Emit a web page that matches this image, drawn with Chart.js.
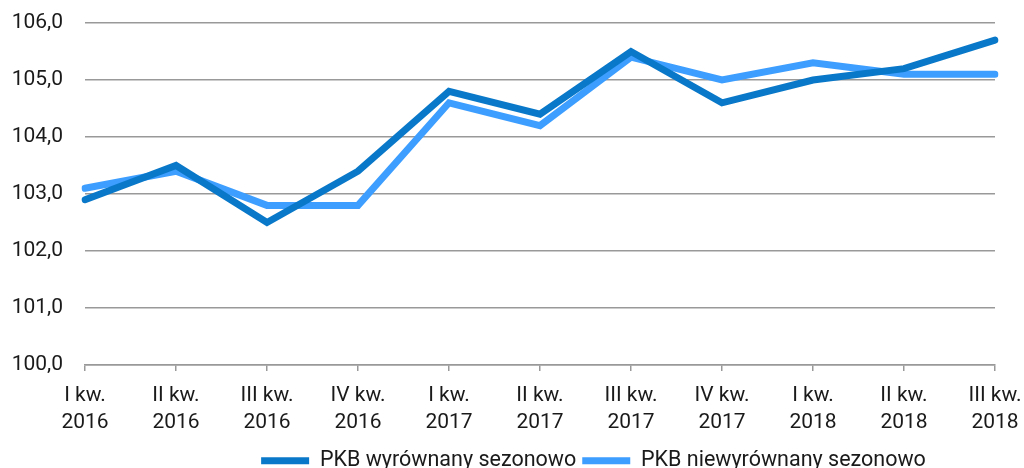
<!DOCTYPE html>
<html>
<head>
<meta charset="utf-8">
<script src="https://cdn.jsdelivr.net/npm/chart.js@4/dist/chart.umd.min.js"></script>
<style>
html,body{margin:0;padding:0;background:#fff;}
#wrap{width:1024px;height:468px;}
</style>
</head>
<body>
<div id="wrap"><canvas id="c" width="1024" height="468"></canvas></div>
<script>
const categories = [
  ['I kw.', '2016'], ['II kw.', '2016'], ['III kw.', '2016'], ['IV kw.', '2016'],
  ['I kw.', '2017'], ['II kw.', '2017'], ['III kw.', '2017'], ['IV kw.', '2017'],
  ['I kw.', '2018'], ['II kw.', '2018'], ['III kw.', '2018']
];
const seriesNames = ['PKB wyrównany sezonowo', 'PKB niewyrównany sezonowo'];
const adjusted = [102.9, 103.5, 102.5, 103.4, 104.8, 104.4, 105.5, 104.6, 105.0, 105.2, 105.7];
const unadjusted = [103.1, 103.4, 102.8, 102.8, 104.6, 104.2, 105.4, 105.0, 105.3, 105.1, 105.1];
const yTicks = [100, 101, 102, 103, 104, 105, 106];

const FONT = "Roboto, 'Noto Sans', sans-serif";
Chart.defaults.font.family = FONT;
Chart.defaults.font.size = 21;
Chart.defaults.color = '#1a1a1a';

const legendTweak = {
  id: 'legendTweak',
  beforeLayout(chart) {
    const lg = chart.legend;
    if (lg && !lg._patched) {
      const orig = lg.fit.bind(lg);
      lg.fit = function () { orig(); this.height = 37; };
      lg._patched = true;
    }
  },
  afterLayout(chart) {
    const lg = chart.legend;
    if (lg) {
      lg.left += 96; lg.right += 96;
      lg.top += 13; lg.bottom += 13;
    }
  }
};

new Chart(document.getElementById('c'), {
  type: 'line',
  data: {
    labels: categories,
    datasets: [
      {
        label: seriesNames[0], data: adjusted,
        borderColor: '#0A78C8', backgroundColor: '#0A78C8',
        borderWidth: 7, pointRadius: 0, tension: 0, borderCapStyle: 'round', borderJoinStyle: 'miter'
      },
      {
        label: seriesNames[1], data: unadjusted,
        borderColor: '#3D9EFF', backgroundColor: '#3D9EFF',
        borderWidth: 7, pointRadius: 0, tension: 0, borderCapStyle: 'round', borderJoinStyle: 'miter'
      }
    ]
  },
  plugins: [legendTweak],
  options: {
    responsive: false,
    animation: false,
    layout: { padding: { left: 0, right: 29, top: 23, bottom: 0 } },
    plugins: {
      tooltip: { enabled: false },
      legend: {
        position: 'bottom',
        labels: {
          usePointStyle: true, pointStyle: 'line', pointStyleWidth: 48,
          boxHeight: 18, padding: 6,
          font: { family: FONT, size: 21.5 }, color: '#1a1a1a'
        }
      }
    },
    scales: {
      x: {
        offset: false,
        grid: { drawOnChartArea: false, drawTicks: true, tickLength: 6, color: '#999', lineWidth: 1.5 },
        border: { display: true, color: '#999', width: 1.5 },
        ticks: { maxRotation: 0, autoSkip: false, padding: 11, font: { size: 21, lineHeight: 1.28 } },
        afterFit: (s) => { s.height = 66; s.paddingLeft = 0; s.paddingRight = 0; }
      },
      y: {
        min: 100, max: 106,
        afterBuildTicks: (s) => { s.ticks = yTicks.map(v => ({ value: v })); },
        grid: { drawTicks: false, color: '#999', lineWidth: 1.5 },
        border: { display: false },
        ticks: { padding: 22, font: { size: 21 }, callback: (v) => Number(v).toFixed(1).replace('.', ',') },
        afterFit: (s) => { s.width = 85; s.paddingTop = 0; s.paddingBottom = 0; }
      }
    }
  }
});
</script>
</body>
</html>
